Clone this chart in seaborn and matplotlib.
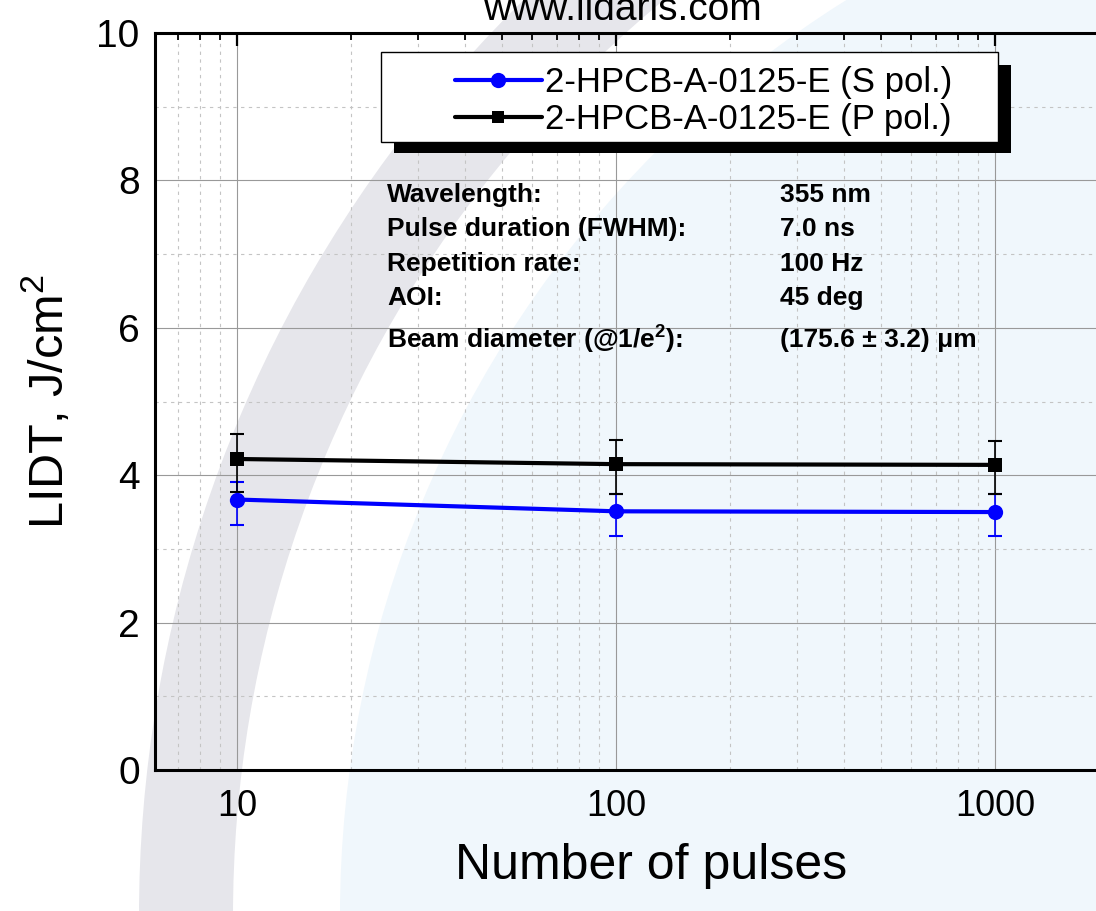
import matplotlib
matplotlib.use("Agg")
import matplotlib.pyplot as plt
import matplotlib.patches as mpatches
import matplotlib.ticker as mticker
from matplotlib.lines import Line2D
import pandas as pd
import seaborn as sns

# data
pulses = [10, 100, 1000]
lidt_s = [3.67, 3.51, 3.50]
lidt_s_lo = [0.35, 0.33, 0.32]
lidt_s_hi = [0.24, 0.24, 0.25]
lidt_p = [4.22, 4.15, 4.14]
lidt_p_lo = [0.45, 0.40, 0.40]
lidt_p_hi = [0.34, 0.33, 0.33]

series_labels = ["2-HPCB-A-0125-E (S pol.)", "2-HPCB-A-0125-E (P pol.)"]
x_tick_labels = ["10", "100", "1000"]
info_labels = ["Wavelength:", "Pulse duration (FWHM):", "Repetition rate:", "AOI:",
               r"Beam diameter (@1/e$^{\mathbf{2}}$):"]
info_values = ["355 nm", "7.0 ns", "100 Hz", "45 deg", "(175.6 \u00b1 3.2) \u03bcm"]

W, H = 1096, 911


def fx(px):
    return px / W


def fy(py):
    return 1 - py / H


sns.set_style("white")
plt.rcParams["font.family"] = ["Liberation Sans", "DejaVu Sans"]
plt.rcParams["mathtext.fontset"] = "custom"
plt.rcParams["mathtext.rm"] = "Liberation Sans"
plt.rcParams["mathtext.bf"] = "Liberation Sans:bold"
plt.rcParams["mathtext.it"] = "Liberation Sans:italic"
for key in ["text.color", "axes.labelcolor", "xtick.color", "ytick.color"]:
    plt.rcParams[key] = "black"

df = pd.DataFrame({
    "pulses": pulses * 2,
    "lidt": lidt_s + lidt_p,
    "series": [series_labels[0]] * 3 + [series_labels[1]] * 3,
})

fig = plt.figure(figsize=(W / 100, H / 100), dpi=100)
fig.patch.set_facecolor("white")

# faint logo watermark behind the plot
fig.add_artist(mpatches.Circle((14.20, -0.04), 10.8, transform=fig.dpi_scale_trans,
                               color="#f0f7fc", lw=0, zorder=-3))
fig.add_artist(mpatches.Wedge((14.20, -0.04), 12.81, 118, 196, width=0.94,
                              transform=fig.dpi_scale_trans, color="#e6e6eb", lw=0, zorder=-2))

ax = fig.add_axes([fx(155), fy(770), (1109 - 155) / W, (770 - 33) / H])
ax.set_facecolor("none")
ax.set_xscale("log")

ax.errorbar(pulses, lidt_s, yerr=[lidt_s_lo, lidt_s_hi], fmt="none", ecolor="blue",
            elinewidth=1.2, capsize=5, capthick=1.5, zorder=2)
ax.errorbar(pulses, lidt_p, yerr=[lidt_p_lo, lidt_p_hi], fmt="none", ecolor="black",
            elinewidth=1.2, capsize=5, capthick=1.5, zorder=2)

sns.lineplot(data=df, x="pulses", y="lidt", hue="series", style="series",
             palette={series_labels[0]: "blue", series_labels[1]: "black"},
             markers={series_labels[0]: "o", series_labels[1]: "s"}, dashes=False,
             linewidth=3, markersize=11, markeredgewidth=0, legend=False, ax=ax, zorder=3)
for line in ax.lines:
    if line.get_marker() == "s":
        line.set_markersize(9.5)

ax.set_xlim(6.08, 2000)
ax.set_ylim(0, 10)
ax.set_xticks(pulses)
ax.set_xticklabels(x_tick_labels)
ax.xaxis.set_minor_locator(mticker.LogLocator(base=10, subs=range(2, 10)))
ax.xaxis.set_minor_formatter(mticker.NullFormatter())
ax.yaxis.set_major_locator(mticker.MultipleLocator(2))
ax.yaxis.set_minor_locator(mticker.MultipleLocator(1))

ax.grid(which="major", color="#999999", lw=0.8, ls="-")
ax.grid(which="minor", color="#c4c4c4", lw=0.8, ls=(0, (3, 4)))
ax.set_axisbelow(True)

for side in ["left", "bottom", "top", "right"]:
    ax.spines[side].set_linewidth(2.2)
    ax.spines[side].set_color("black")

ax.tick_params(which="both", direction="in", top=True, right=True, color="black")
ax.tick_params(which="major", length=9, width=1.6)
ax.tick_params(which="minor", length=5, width=1.3)
ax.tick_params(axis="x", which="major", labelsize=26, pad=14)
ax.tick_params(axis="y", which="major", labelsize=28, pad=11)

ax.set_xlabel("Number of pulses", fontsize=36)
ax.xaxis.set_label_coords(0.52, -0.099)
ax.set_ylabel("LIDT, J/cm$^2$", fontsize=35)
ax.yaxis.set_label_coords(-0.086, 0.5)

fig.text(fx(622), fy(20), "www.lidaris.com", fontsize=28, ha="center", va="baseline")

# legend box with hard black shadow
fig.add_artist(mpatches.Rectangle((fx(394), fy(153)), fx(1011) - fx(394), fy(65) - fy(153),
                                  transform=fig.transFigure, color="black", lw=0, zorder=4))
fig.add_artist(mpatches.Rectangle((fx(381), fy(142)), fx(998) - fx(381), fy(52) - fy(142),
                                  transform=fig.transFigure, facecolor="white",
                                  edgecolor="black", lw=1, zorder=4.1))
handles = [
    Line2D([], [], color="blue", lw=3, marker="o", ms=11, mew=0),
    Line2D([], [], color="black", lw=3, marker="s", ms=9, mew=0),
]
leg = ax.legend(handles, series_labels, loc="center left",
                bbox_to_anchor=(fx(455), fy(101)), bbox_transform=fig.transFigure,
                frameon=False, fontsize=25, handlelength=2.5, handletextpad=0.1,
                labelspacing=0.12, borderpad=0, borderaxespad=0, numpoints=1)
leg.set_zorder(5)
leg.remove()
fig.add_artist(leg)

info_rows = [195, 229, 264, 298, 340]
for row, lab, val in zip(info_rows, info_labels, info_values):
    fig.text(fx(387), fy(row), lab, fontsize=19, fontweight="bold", va="center", ha="left")
    fig.text(fx(780), fy(row), val, fontsize=19, fontweight="bold", va="center", ha="left")

fig.savefig("out.png", dpi=100)
plt.close(fig)
